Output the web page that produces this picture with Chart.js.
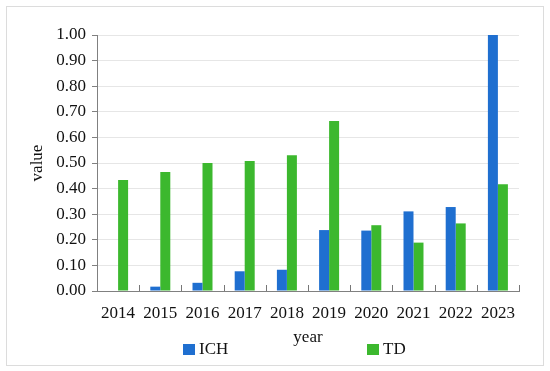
<!DOCTYPE html>
<html>
<head>
<meta charset="utf-8">
<script src="https://cdn.jsdelivr.net/npm/chart.js@4/dist/chart.umd.min.js"></script>
<style>
html,body{margin:0;padding:0;background:#fff;}
#wrap{width:550px;height:371px;position:relative;}
</style>
</head>
<body>
<div id="wrap"><canvas id="c" width="550" height="371"></canvas></div>
<script>
const years = ['2014','2015','2016','2017','2018','2019','2020','2021','2022','2023'];
const ichValues = [0, 0.017, 0.032, 0.077, 0.083, 0.238, 0.236, 0.311, 0.328, 1.0];
const tdValues = [0.434, 0.465, 0.500, 0.508, 0.530, 0.664, 0.257, 0.189, 0.264, 0.417];
const seriesNames = ['ICH', 'TD'];
const seriesColors = ['#1f6fd0', '#3cb82e'];

const FONT = '"Liberation Serif", "Times New Roman", serif';

const decor = {
  id: 'decor',
  beforeDraw(chart) {
    const ctx = chart.ctx;
    ctx.save();
    ctx.fillStyle = '#fff';
    ctx.fillRect(0, 0, chart.width, chart.height);
    ctx.strokeStyle = '#dcdcdc';
    ctx.lineWidth = 1;
    ctx.strokeRect(6.5, 6.5, 537, 359);
    ctx.restore();
  },
  afterDatasetsDraw(chart) {
    const ctx = chart.ctx;
    const x = chart.scales.x;
    const area = chart.chartArea;
    const n = chart.data.labels.length;
    const w = (x.getPixelForValue(1) - x.getPixelForValue(0));
    ctx.save();
    ctx.strokeStyle = '#777';
    ctx.lineWidth = 1;
    for (let i = 1; i <= n; i++) {
      const px = Math.round(x.getPixelForValue(i) - w / 2) + 0.5;
      ctx.beginPath();
      ctx.moveTo(px, area.bottom);
      ctx.lineTo(px, area.bottom - 6);
      ctx.stroke();
    }
    // legend
    ctx.font = '17px ' + FONT;
    ctx.textBaseline = 'middle';
    ctx.textAlign = 'left';
    const ly = 350;
    const starts = [area.left + 86, area.left + 270];
    chart.data.datasets.forEach((ds, i) => {
      ctx.fillStyle = ds.backgroundColor;
      ctx.fillRect(starts[i], ly - 6, 12, 11);
      ctx.fillStyle = '#111';
      ctx.fillText(ds.label, starts[i] + 16, ly);
    });
    ctx.restore();
  }
};

new Chart(document.getElementById('c'), {
  type: 'bar',
  data: {
    labels: years,
    datasets: [
      { label: seriesNames[0], data: ichValues, backgroundColor: seriesColors[0], barPercentage: 1.0, categoryPercentage: 0.474 },
      { label: seriesNames[1], data: tdValues, backgroundColor: seriesColors[1], barPercentage: 1.0, categoryPercentage: 0.474 }
    ]
  },
  options: {
    responsive: false,
    animation: false,
    devicePixelRatio: 1,
    layout: { padding: { left: 0, right: 31, top: 35, bottom: 0 } },
    plugins: { legend: { display: false }, tooltip: { enabled: false } },
    scales: {
      x: {
        grid: { display: false },
        border: { display: true, color: '#808080', width: 1 },
        ticks: { color: '#111', font: { family: FONT, size: 17 }, padding: 4, maxRotation: 0 },
        title: { display: true, text: 'year', color: '#111', font: { family: FONT, size: 17 }, padding: { top: 0, bottom: 23 } },
        afterFit(s) { s.height = 80; }
      },
      y: {
        min: 0, max: 1,
        ticks: { stepSize: 0.1, color: '#111', font: { family: FONT, size: 17 }, padding: 6,
          callback: v => Number(v).toFixed(2) },
        grid: { color: '#e6e6e6', tickColor: '#808080', tickLength: 5 },
        border: { display: true, color: '#808080', width: 1 },
        title: { display: true, text: 'value', color: '#111', font: { family: FONT, size: 17 }, padding: { top: 27, bottom: 0 } },
        afterFit(s) { s.width = 97; }
      }
    }
  },
  plugins: [decor]
});
</script>
</body>
</html>
